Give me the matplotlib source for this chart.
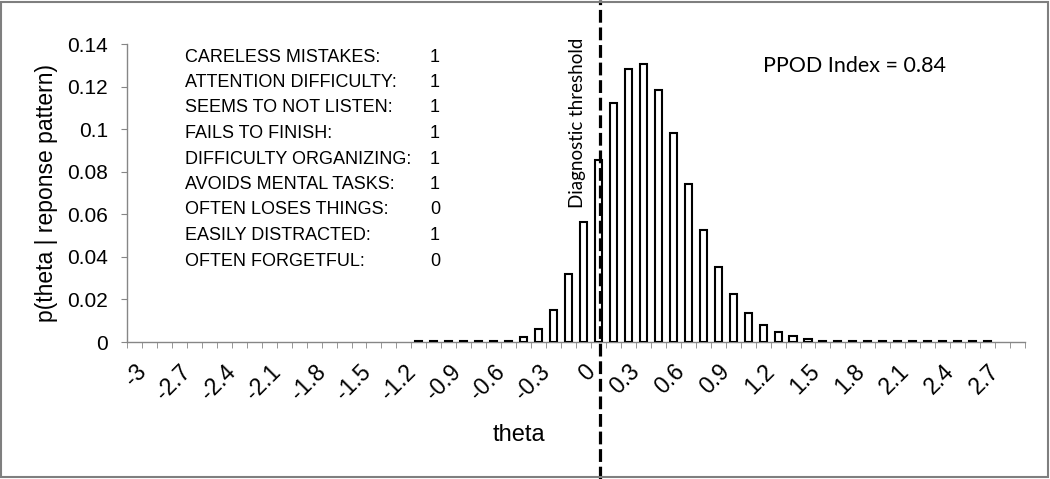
import matplotlib.pyplot as plt
import matplotlib.transforms as mtransforms
from matplotlib.patches import Rectangle
import numpy as np

# Posterior p(theta | response pattern) over theta categories -3.0 .. 2.9
theta = [round(-3 + 0.1 * i, 1) for i in range(60)]
prob = ([None] * 19                                   # -3.0 .. -1.2 (blank)
        + [0.0004] * 7                                # -1.1 .. -0.5
        + [0.0022, 0.0062, 0.0152, 0.0319, 0.0563,    # -0.4 .. 0.0
           0.0853, 0.1122, 0.1283, 0.1305, 0.1185,    # 0.1 .. 0.5
           0.0983, 0.0743, 0.0527, 0.0352, 0.0224,    # 0.6 .. 1.0
           0.0138, 0.0081, 0.0045, 0.0027, 0.0015]    # 1.1 .. 1.5
        + [0.0004] * 12                               # 1.6 .. 2.7
        + [None] * 2)                                 # 2.8 .. 2.9

tick_labels = ['-3', '-2.7', '-2.4', '-2.1', '-1.8', '-1.5', '-1.2', '-0.9', '-0.6', '-0.3',
               '0', '0.3', '0.6', '0.9', '1.2', '1.5', '1.8', '2.1', '2.4', '2.7']
yticks = [0, 0.02, 0.04, 0.06, 0.08, 0.1, 0.12, 0.14]
ytick_labels = ['0', '0.02', '0.04', '0.06', '0.08', '0.1', '0.12', '0.14']

items = ['CARELESS MISTAKES:', 'ATTENTION DIFFICULTY:', 'SEEMS TO NOT LISTEN:',
         'FAILS TO FINISH:', 'DIFFICULTY ORGANIZING:', 'AVOIDS MENTAL TASKS:',
         'OFTEN LOSES THINGS:', 'EASILY DISTRACTED:', 'OFTEN FORGETFUL:']
responses = [1, 1, 1, 1, 1, 1, 0, 1, 0]

ppod_index = 0.84
threshold = 0.11

W, H = 1050, 479
plt.rcParams['font.family'] = ['Liberation Sans', 'DejaVu Sans']
fig = plt.figure(figsize=(W / 100, H / 100), dpi=100)
ax = fig.add_axes([127 / W, 1 - 342 / H, 898 / W, 298 / H])

grey = '#868686'

# bars
idx = np.arange(len(theta))
heights = np.array([np.nan if p is None else p for p in prob])
ok = ~np.isnan(heights)
ax.bar(idx[ok], heights[ok], width=0.47, facecolor='white', edgecolor='black',
       linewidth=1.5, zorder=3)

ax.set_xlim(-0.5, len(theta) - 0.5)
ax.set_ylim(0, 0.14)

# axes styling
for s in ['top', 'right']:
    ax.spines[s].set_visible(False)
for s in ['left', 'bottom']:
    ax.spines[s].set_color(grey)
    ax.spines[s].set_linewidth(1.0)

ax.set_yticks(yticks)
ax.set_yticklabels(ytick_labels, fontsize=15)
ax.tick_params(axis='y', direction='out', length=4.5, color=grey, pad=9)

ax.set_xticks(idx[::3])
ax.set_xticklabels(tick_labels, fontsize=16.5, rotation=45, ha='right', va='top',
                   rotation_mode='anchor')
ax.set_xticks(np.arange(len(theta) + 1) - 0.5, minor=True)
ax.tick_params(axis='x', which='major', length=0, pad=13)
ax.tick_params(axis='x', which='minor', direction='out', length=4.5, color=grey)

ax.set_xlabel('theta', fontsize=17, va='center')
ax.xaxis.set_label_coords((519 - 127) / 898, (342 - 435) / 298)
ax.set_ylabel('p(theta | reponse pattern)', fontsize=16.5, va='center')
ax.yaxis.set_label_coords((47 - 127) / 898, 0.5)

# diagnostic threshold line across the whole figure
thr_pos = (threshold - theta[0]) / 0.1
trans = mtransforms.blended_transform_factory(ax.transData, fig.transFigure)
ax.plot([thr_pos, thr_pos], [0, 1], transform=trans, color='black', lw=2.3,
        linestyle=(0, (4, 1.5)), clip_on=False, zorder=5)
fig.text(577 / W, 1 - 123 / H, 'Diagnostic threshold', rotation=90, ha='center',
         va='center', fontsize=13.5, family=['Lato', 'DejaVu Sans'])

# response pattern block
for k, (lab, val) in enumerate(zip(items, responses)):
    y = 1 - (57 + 25.5 * k) / H
    fig.text(185 / W, y, lab, ha='left', va='center', fontsize=13)
    fig.text(435 / W, y, str(val), ha='center', va='center', fontsize=13)

fig.text(763 / W, 1 - 66 / H, f'PPOD Index = {ppod_index}', ha='left', va='center',
         fontsize=15.5, family=['Lato', 'DejaVu Sans'])

# grey frame around the figure
fig.patches.append(Rectangle((1 / W, 2 / H), 1 - 3.5 / W, 1 - 4 / H, fill=False,
                             edgecolor='#7f7f7f', linewidth=1.5,
                             transform=fig.transFigure))

fig.savefig('out.png', dpi=100)
